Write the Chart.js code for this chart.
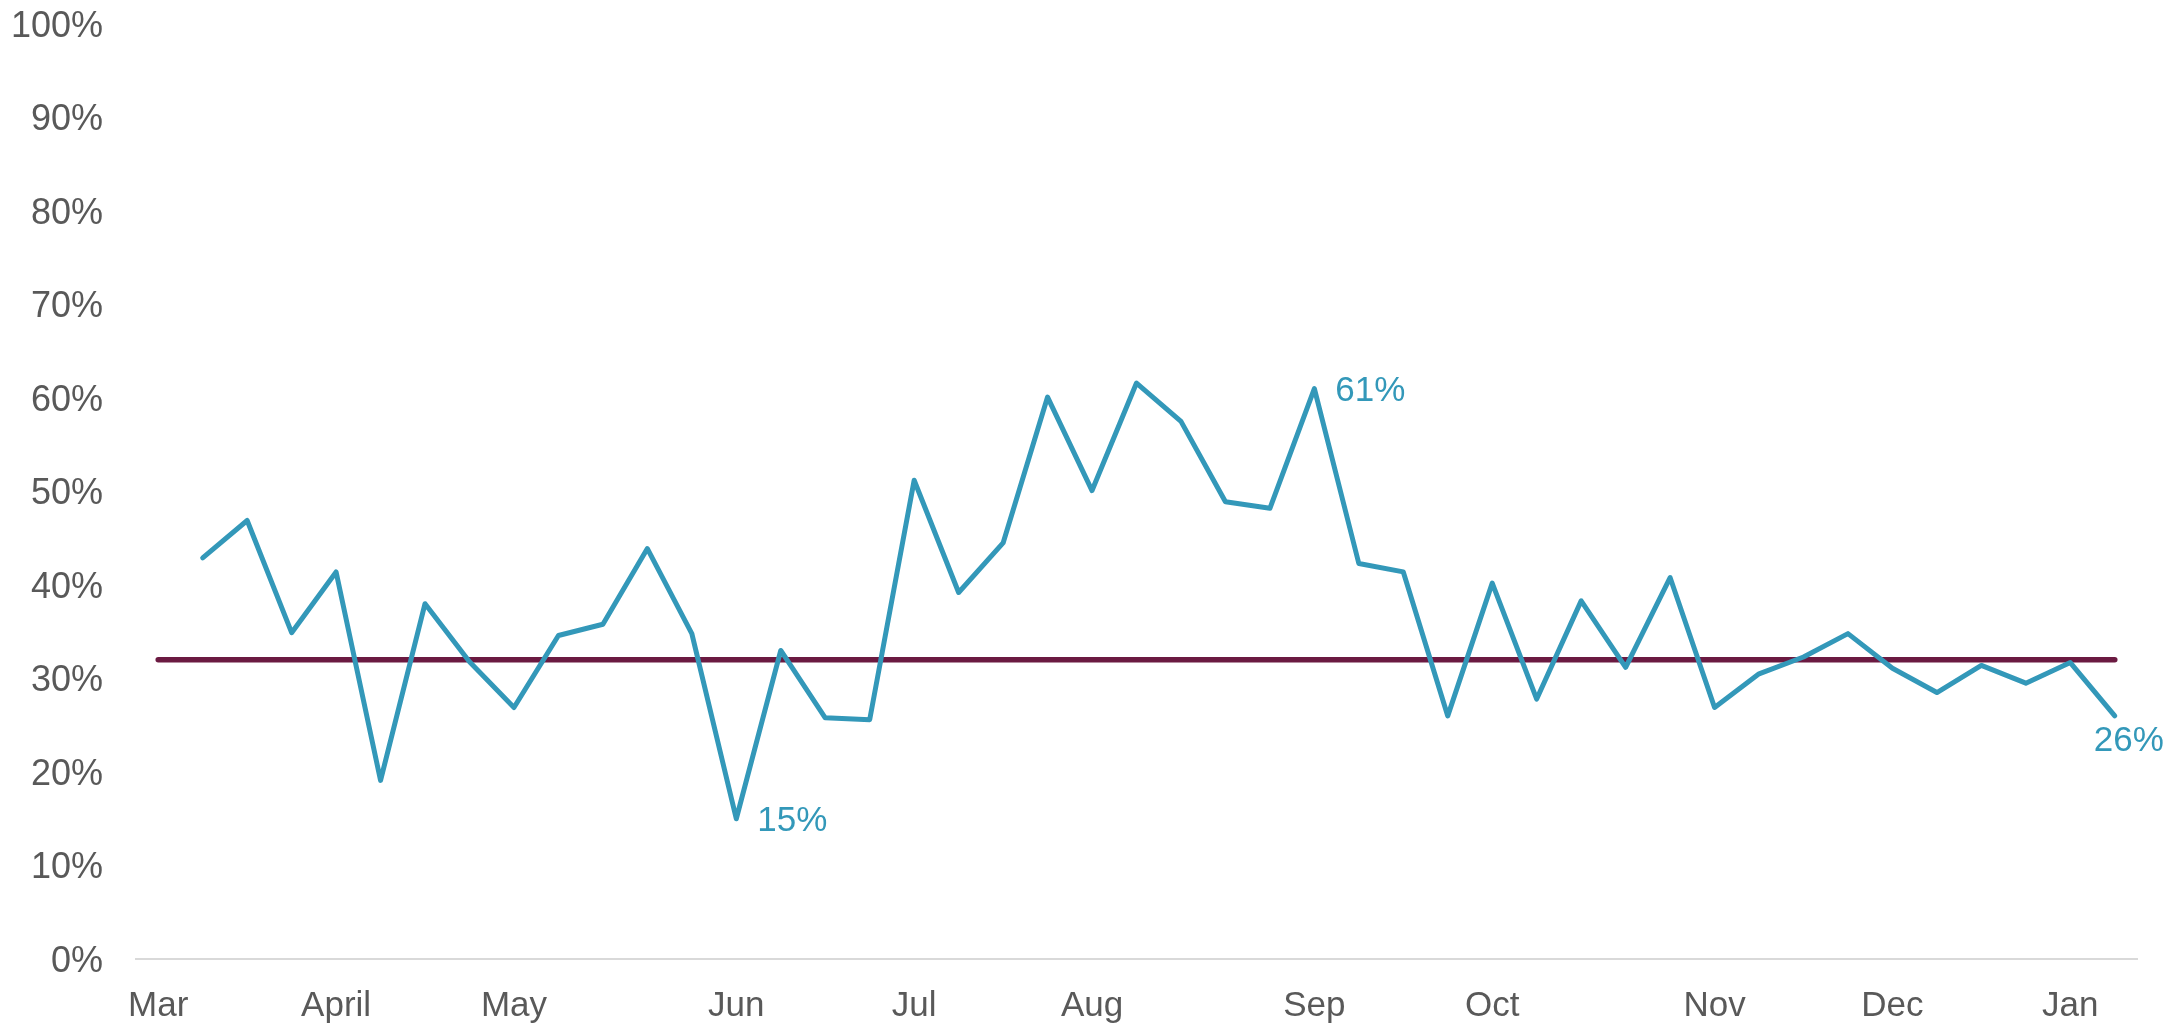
<!DOCTYPE html>
<html>
<head>
<meta charset="utf-8">
<script src="https://cdn.jsdelivr.net/npm/chart.js@4.4.1/dist/chart.umd.min.js"></script>
<style>
  html, body { margin: 0; padding: 0; background: #fff; }
  #chart { display: block; }
</style>
</head>
<body>
<canvas id="chart" width="2179" height="1027"></canvas>
<script>
// one slot per week, first week of March to mid January
const weekCount = 45;
const monthNames = ["Mar", "April", "May", "Jun", "Jul", "Aug", "Sep", "Oct", "Nov", "Dec", "Jan"];
const monthStartWeek = [0, 4, 8, 13, 17, 21, 26, 30, 35, 39, 43];

// weekly share in %, no reading for the first week
const share = [
  null, 42.9, 46.9, 34.9, 41.4, 19.1, 38.0, 31.8, 26.9, 34.6,
  35.8, 43.9, 34.8, 15, 33.0, 25.8, 25.6, 51.2, 39.2, 44.5,
  60.1, 50.1, 61.6, 57.5, 48.9, 48.2, 61, 42.3, 41.4, 26.0,
  40.2, 27.8, 38.3, 31.2, 40.8, 26.9, 30.5, 32.3, 34.8, 31.1,
  28.5, 31.4, 29.5, 31.7, 26
];
const average = 32;

// weeks that get a value label, and where it goes
const labelledWeeks = [13, 26, 44];
const labelSide = ["right", "right", "below"];

const yTicks = [0, 10, 20, 30, 40, 50, 60, 70, 80, 90, 100];

const TEAL = "#3398b9";
const MAROON = "#6b1a41";
const GREY = "#595959";
const FONT = '"Liberation Sans", Arial, sans-serif';

const weeks = [];
for (let i = 0; i < weekCount; i++) weeks.push(i);

const valueLabels = {
  id: "valueLabels",
  afterDatasetsDraw(chart) {
    const meta = chart.getDatasetMeta(1);
    const ctx = chart.ctx;
    ctx.save();
    ctx.font = "35px " + FONT;
    ctx.fillStyle = TEAL;
    ctx.textBaseline = "middle";
    labelledWeeks.forEach((w, k) => {
      const pt = meta.data[w];
      const text = Math.round(share[w]) + "%";
      if (labelSide[k] === "right") {
        ctx.textAlign = "left";
        ctx.fillText(text, pt.x + 21, pt.y + 3);
      } else {
        ctx.textAlign = "center";
        ctx.fillText(text, pt.x + 14, pt.y + 25);
      }
    });
    ctx.restore();
  }
};

new Chart(document.getElementById("chart"), {
  type: "line",
  data: {
    labels: weeks,
    datasets: [
      {
        label: "Average",
        data: weeks.map(() => average),
        borderColor: MAROON,
        borderWidth: 5.5,
        borderCapStyle: "round",
        pointRadius: 0,
        order: 2
      },
      {
        label: "Share",
        data: share,
        borderColor: TEAL,
        borderWidth: 5,
        borderCapStyle: "round",
        borderJoinStyle: "round",
        pointRadius: 0,
        tension: 0,
        order: 1
      }
    ]
  },
  options: {
    responsive: false,
    animation: false,
    devicePixelRatio: 1,
    layout: { padding: { top: 0, right: 42, bottom: 0, left: 0 } },
    plugins: { legend: { display: false }, tooltip: { enabled: false } },
    scales: {
      x: {
        offset: true,
        grid: { display: false, drawTicks: false },
        border: { display: true, color: "#d9d9d9", width: 2 },
        ticks: {
          autoSkip: false,
          maxRotation: 0,
          padding: 26,
          color: GREY,
          font: { family: FONT, size: 35 },
          callback: (v, i) => {
            const k = monthStartWeek.indexOf(i);
            return k >= 0 ? monthNames[k] : "";
          }
        },
        afterFit: (scale) => { scale.height = 68; }
      },
      y: {
        min: 0,
        max: 100,
        grid: { display: false, drawTicks: false },
        border: { display: false },
        afterBuildTicks: (scale) => { scale.ticks = yTicks.map((v) => ({ value: v })); },
        ticks: {
          padding: 33,
          labelOffset: 3,
          color: GREY,
          font: { family: FONT, size: 36 },
          callback: (v) => v + "%"
        },
        afterFit: (scale) => {
          scale.width = 136;
          scale.paddingTop = 24;
          scale.paddingBottom = 0;
        }
      }
    }
  },
  plugins: [valueLabels]
});
</script>
</body>
</html>
